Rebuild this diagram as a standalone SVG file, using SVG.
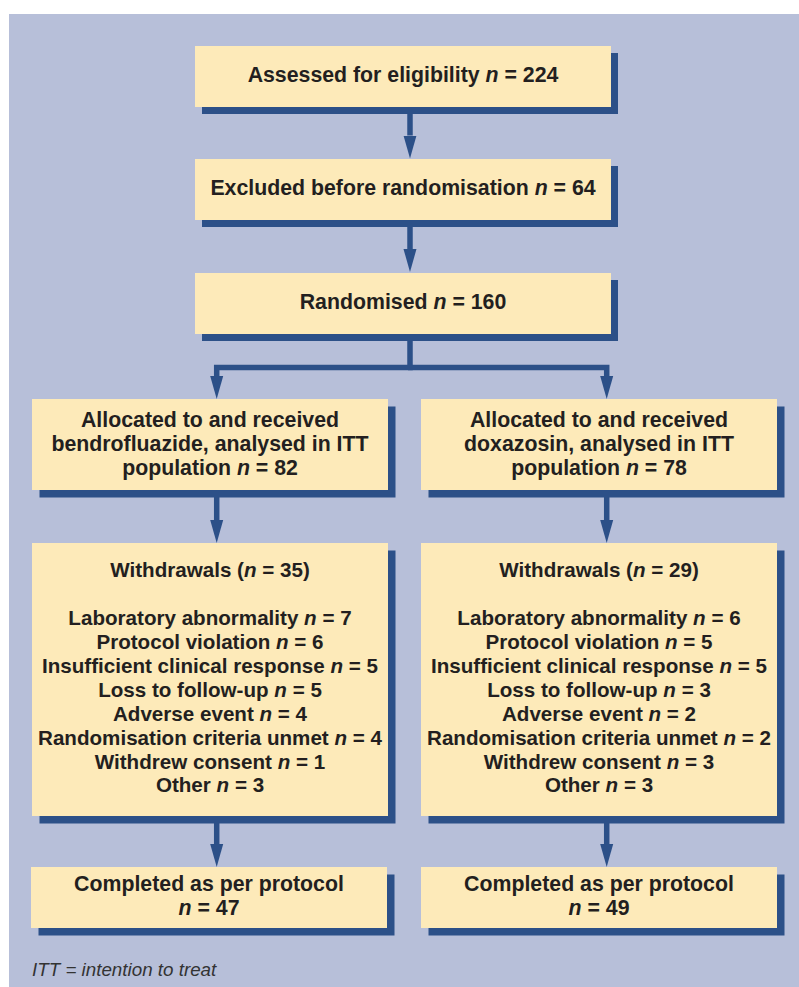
<svg xmlns="http://www.w3.org/2000/svg" width="799" height="987" viewBox="0 0 799 987">
<style>
.box{fill:#fdeab9}
.sh{fill:#2c5088}
.t{font-family:"Liberation Sans",Arial,Helvetica,sans-serif;font-weight:bold;font-size:21.3px;fill:#231f20;text-anchor:middle}
.w{font-size:20.6px}
.i{font-style:italic}
.con{fill:none;stroke:#2c5088;stroke-width:5.5;stroke-linejoin:miter}
.note{font-family:"Liberation Sans",Arial,Helvetica,sans-serif;font-style:italic;font-size:18.8px;fill:#333333}
</style>
<defs>
<marker id="ah" markerUnits="userSpaceOnUse" markerWidth="24" markerHeight="14" refX="0" refY="6.5" orient="auto" viewBox="0 0 24 13">
<path d="M0,0 L23,6.5 L0,13 z" fill="#2c5088"/>
</marker>
</defs>
<rect x="9" y="14" width="790" height="973" fill="#b7bfd9"/>
<g id="connectors">
<path class="con" d="M410,113 V135.5" marker-end="url(#ah)"/>
<path class="con" d="M410,227 V249" marker-end="url(#ah)"/>
<path class="con" d="M410,340 V367.5 H216.7 V376" marker-end="url(#ah)"/>
<path class="con" d="M408,367.5 H606.7 V376" marker-end="url(#ah)"/>
<path class="con" d="M216.7,497 V520" marker-end="url(#ah)"/>
<path class="con" d="M606.7,497 V520" marker-end="url(#ah)"/>
<path class="con" d="M216.7,822 V844" marker-end="url(#ah)"/>
<path class="con" d="M606.7,822 V844" marker-end="url(#ah)"/>
</g>
<g id="assessed">
<rect class="sh" x="202" y="53" width="416" height="61"/>
<rect class="box" x="195" y="46" width="416" height="61"/>
<text class="t" x="403" y="82">Assessed for eligibility <tspan class="i">n</tspan> = 224</text>
</g>
<g id="excluded">
<rect class="sh" x="202" y="166" width="416" height="61"/>
<rect class="box" x="195" y="159" width="416" height="61"/>
<text class="t" x="403" y="195">Excluded before randomisation <tspan class="i">n</tspan> = 64</text>
</g>
<g id="randomised">
<rect class="sh" x="202" y="280" width="416" height="61"/>
<rect class="box" x="195" y="273" width="416" height="61"/>
<text class="t" x="403" y="309">Randomised <tspan class="i">n</tspan> = 160</text>
</g>
<g id="alloc-bendro">
<rect class="sh" x="39.5" y="406.5" width="356" height="91"/>
<rect class="box" x="32" y="399" width="356" height="91"/>
<text class="t" x="210" y="426.7">Allocated to and received</text>
<text class="t" x="210" y="450.9">bendrofluazide, analysed in ITT</text>
<text class="t" x="210" y="475">population <tspan class="i">n</tspan> = 82</text>
</g>
<g id="alloc-doxa">
<rect class="sh" x="428.5" y="406.5" width="356" height="91"/>
<rect class="box" x="421" y="399" width="356" height="91"/>
<text class="t" x="599" y="426.7">Allocated to and received</text>
<text class="t" x="599" y="450.9">doxazosin, analysed in ITT</text>
<text class="t" x="599" y="475">population <tspan class="i">n</tspan> = 78</text>
</g>
<g id="withdraw-bendro">
<rect class="sh" x="39.5" y="550.5" width="356" height="273"/>
<rect class="box" x="32" y="543" width="356" height="273"/>
<text class="t w" x="210" y="576.7">Withdrawals (<tspan class="i">n</tspan> = 35)</text>
<text class="t w" x="210" y="625">Laboratory abnormality <tspan class="i">n</tspan> = 7</text>
<text class="t w" x="210" y="649">Protocol violation <tspan class="i">n</tspan> = 6</text>
<text class="t w" x="210" y="673">Insufficient clinical response <tspan class="i">n</tspan> = 5</text>
<text class="t w" x="210" y="697">Loss to follow-up <tspan class="i">n</tspan> = 5</text>
<text class="t w" x="210" y="721">Adverse event <tspan class="i">n</tspan> = 4</text>
<text class="t w" x="210" y="744.5">Randomisation criteria unmet <tspan class="i">n</tspan> = 4</text>
<text class="t w" x="210" y="768.5">Withdrew consent <tspan class="i">n</tspan> = 1</text>
<text class="t w" x="210" y="792">Other <tspan class="i">n</tspan> = 3</text>
</g>
<g id="withdraw-doxa">
<rect class="sh" x="428.5" y="550.5" width="356" height="273"/>
<rect class="box" x="421" y="543" width="356" height="273"/>
<text class="t w" x="599" y="576.7">Withdrawals (<tspan class="i">n</tspan> = 29)</text>
<text class="t w" x="599" y="625">Laboratory abnormality <tspan class="i">n</tspan> = 6</text>
<text class="t w" x="599" y="649">Protocol violation <tspan class="i">n</tspan> = 5</text>
<text class="t w" x="599" y="673">Insufficient clinical response <tspan class="i">n</tspan> = 5</text>
<text class="t w" x="599" y="697">Loss to follow-up <tspan class="i">n</tspan> = 3</text>
<text class="t w" x="599" y="721">Adverse event <tspan class="i">n</tspan> = 2</text>
<text class="t w" x="599" y="744.5">Randomisation criteria unmet <tspan class="i">n</tspan> = 2</text>
<text class="t w" x="599" y="768.5">Withdrew consent <tspan class="i">n</tspan> = 3</text>
<text class="t w" x="599" y="792">Other <tspan class="i">n</tspan> = 3</text>
</g>
<g id="completed-bendro">
<rect class="sh" x="38.5" y="874.5" width="356" height="61"/>
<rect class="box" x="31" y="867" width="356" height="61"/>
<text class="t" x="209" y="890.7">Completed as per protocol</text>
<text class="t" x="209" y="914.5"><tspan class="i">n</tspan> = 47</text>
</g>
<g id="completed-doxa">
<rect class="sh" x="428.5" y="874.5" width="356" height="61"/>
<rect class="box" x="421" y="867" width="356" height="61"/>
<text class="t" x="599" y="890.7">Completed as per protocol</text>
<text class="t" x="599" y="914.5"><tspan class="i">n</tspan> = 49</text>
</g>
<text class="note" x="32" y="976">ITT = intention to treat</text>
</svg>
